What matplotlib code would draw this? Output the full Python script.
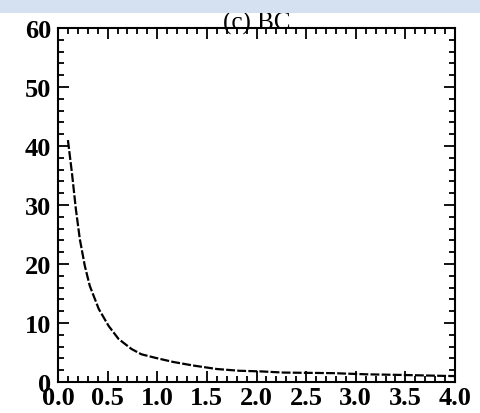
import matplotlib
matplotlib.use("Agg")
import matplotlib.pyplot as plt
from matplotlib.patches import Rectangle
from matplotlib.ticker import MultipleLocator

x_vals = [0.10, 0.14, 0.18, 0.22, 0.27, 0.32, 0.41, 0.51, 0.61, 0.74, 0.84, 0.98,
          1.16, 1.36, 1.60, 1.83, 2.04, 2.27, 2.77, 3.11, 3.45, 3.85, 4.00]
y_vals = [41.0, 35.5, 29.3, 24.2, 19.7, 16.3, 12.4, 9.5, 7.3, 5.6, 4.7, 4.1,
          3.4, 2.8, 2.2, 1.9, 1.8, 1.6, 1.5, 1.3, 1.2, 1.05, 1.0]
x_ticks = [0.0, 0.5, 1.0, 1.5, 2.0, 2.5, 3.0, 3.5, 4.0]
y_ticks = [0, 10, 20, 30, 40, 50, 60]
title = "(c) BC"

fig = plt.figure(figsize=(4.8, 4.14), dpi=100)
fig.patches.append(Rectangle((0, 1 - 14/414), 1, 14/414, transform=fig.transFigure,
                             facecolor="#d5e1f1", edgecolor="none", zorder=0))
ax = fig.add_axes([58/480, 1 - 383/414, (455-58)/480, (383-29)/414])
ax.plot(x_vals, y_vals, color="black", linewidth=1.6, linestyle=(0, (4, 1)))
ax.set_xlim(0, 4)
ax.set_ylim(0, 60)
ax.set_xticks(x_ticks)
ax.set_yticks(y_ticks)
ax.set_xticklabels([f"{v:.1f}" for v in x_ticks])
ax.set_yticklabels([str(v) for v in y_ticks])
ax.xaxis.set_minor_locator(MultipleLocator(0.1))
ax.yaxis.set_minor_locator(MultipleLocator(2))
ax.tick_params(which="both", direction="in", top=True, right=True, width=1.3)
ax.tick_params(which="major", length=8)
ax.tick_params(axis="x", which="major", pad=3)
ax.tick_params(axis="y", which="major", pad=5)
ax.tick_params(which="minor", length=4.5)
for lab in ax.get_xticklabels() + ax.get_yticklabels():
    lab.set_fontfamily("Liberation Serif")
    lab.set_fontweight("bold")
    lab.set_fontsize(19)
for s in ax.spines.values():
    s.set_linewidth(1.5)
ax.set_title(title, fontfamily="Liberation Serif", fontsize=18, pad=0, y=0.997)
fig.savefig("out.png", dpi=100)
